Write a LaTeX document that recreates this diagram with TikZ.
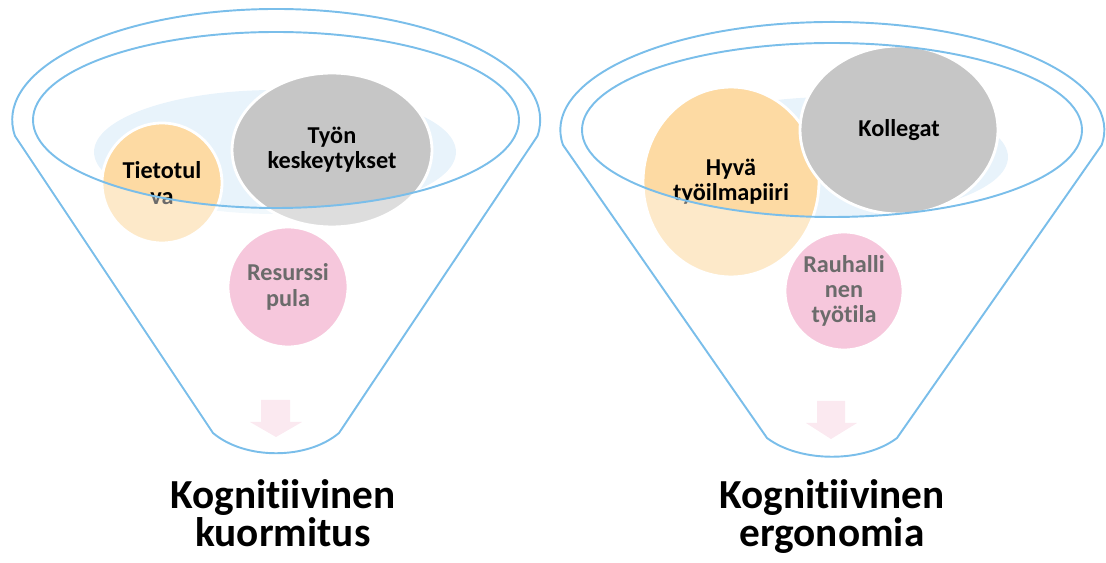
\documentclass[tikz,border=0pt]{standalone}
\usepackage{fontspec}
\setmainfont{Carlito}[Ligatures=NoCommon]
\usetikzlibrary{shapes.geometric}

\definecolor{funnelblue}{RGB}{122,190,234}
\definecolor{haze}{RGB}{232,243,251}
\definecolor{peach}{RGB}{253,218,163}
\definecolor{stone}{RGB}{198,198,198}
\definecolor{rose}{RGB}{241,160,195}
\definecolor{blush}{RGB}{251,233,240}

\tikzset{
  bubble/.style={ellipse, draw=white, line width=1.6pt, inner sep=0pt, align=center,
    font=\bfseries\fontsize{13.8}{14.4}\selectfont},
  rim/.style={draw=funnelblue, line width=1.1pt},
  veil/.style={fill=white, fill opacity=0.42, even odd rule},
  title/.style={align=center, inner sep=0pt, anchor=north,
    font=\bfseries\fontsize{23.5}{22}\selectfont}
}

\begin{document}
\begin{tikzpicture}[x=0.02cm, y=-0.02cm]
    \useasboundingbox (0,0) rectangle (1106,563);

    % Left funnel: bubbles
    \node[ellipse, fill=haze, minimum width=7.24cm, minimum height=2.48cm] (hazeL) at (275,152) {};
    \node[bubble, fill=peach, minimum size=2.4cm] (tieto) at (162,183) {Tietotul\\va};
    \node[bubble, fill=stone, minimum width=4cm, minimum height=3.08cm] (katko) at (332,150) {Työn\\keskeytykset};
    \node[bubble, fill=rose, minimum size=2.4cm] (pula) at (288,287) {Resurssi\\pula};

    % Left funnel: body
    \fill[veil] (15,136) arc[start angle=171.7, end angle=368.3, x radius=264, y radius=111]
        -- (339,433) .. controls (307,460) and (245,460) .. (213,433) -- cycle
        (276,120) ellipse[x radius=243, y radius=88];
    \draw[rim] (15,136) arc[start angle=171.7, end angle=368.3, x radius=264, y radius=111]
        -- (339,433) .. controls (307,460) and (245,460) .. (213,433) -- cycle;
    \draw[rim] (276,120) ellipse[x radius=243, y radius=88];
    \fill[blush] (261,400) -- (290,400) -- (290,422) -- (302,422) -- (276,437) -- (250,422) -- (261,422) -- cycle;

    \node[title] (kuorm) at (283,479) {Kognitiivinen\\kuormitus};

    % Right funnel: bubbles
    \node[ellipse, fill=haze, minimum width=7.04cm, minimum height=2.4cm] (hazeR) at (832,157) {};
    \node[bubble, fill=peach, minimum width=3.52cm, minimum height=3.8cm] (ilmapiiri) at (731,182) {Hyvä\\työilmapiiri};
    \node[bubble, fill=stone, minimum width=3.96cm, minimum height=3.36cm] (kollegat) at (899,130) {Kollegat};
    \node[bubble, fill=rose, minimum size=2.36cm] (rauha) at (844,291) {Rauhalli\\nen\\työtila};

    % Right funnel: body
    \fill[veil] (563,145) arc[start angle=172, end angle=368, x radius=272, y radius=108]
        -- (897,438) .. controls (864,463) and (800,463) .. (767,438) -- cycle
        (832,130) ellipse[x radius=250, y radius=87];
    \draw[rim] (563,145) arc[start angle=172, end angle=368, x radius=272, y radius=108]
        -- (897,438) .. controls (864,463) and (800,463) .. (767,438) -- cycle;
    \draw[rim] (832,130) ellipse[x radius=250, y radius=87];
    \fill[blush] (817,401) -- (845,401) -- (845,423) -- (857,423) -- (831,439) -- (806,423) -- (817,423) -- cycle;

    \node[title] (ergo) at (832,479) {Kognitiivinen\\ergonomia};
\end{tikzpicture}
\end{document}
